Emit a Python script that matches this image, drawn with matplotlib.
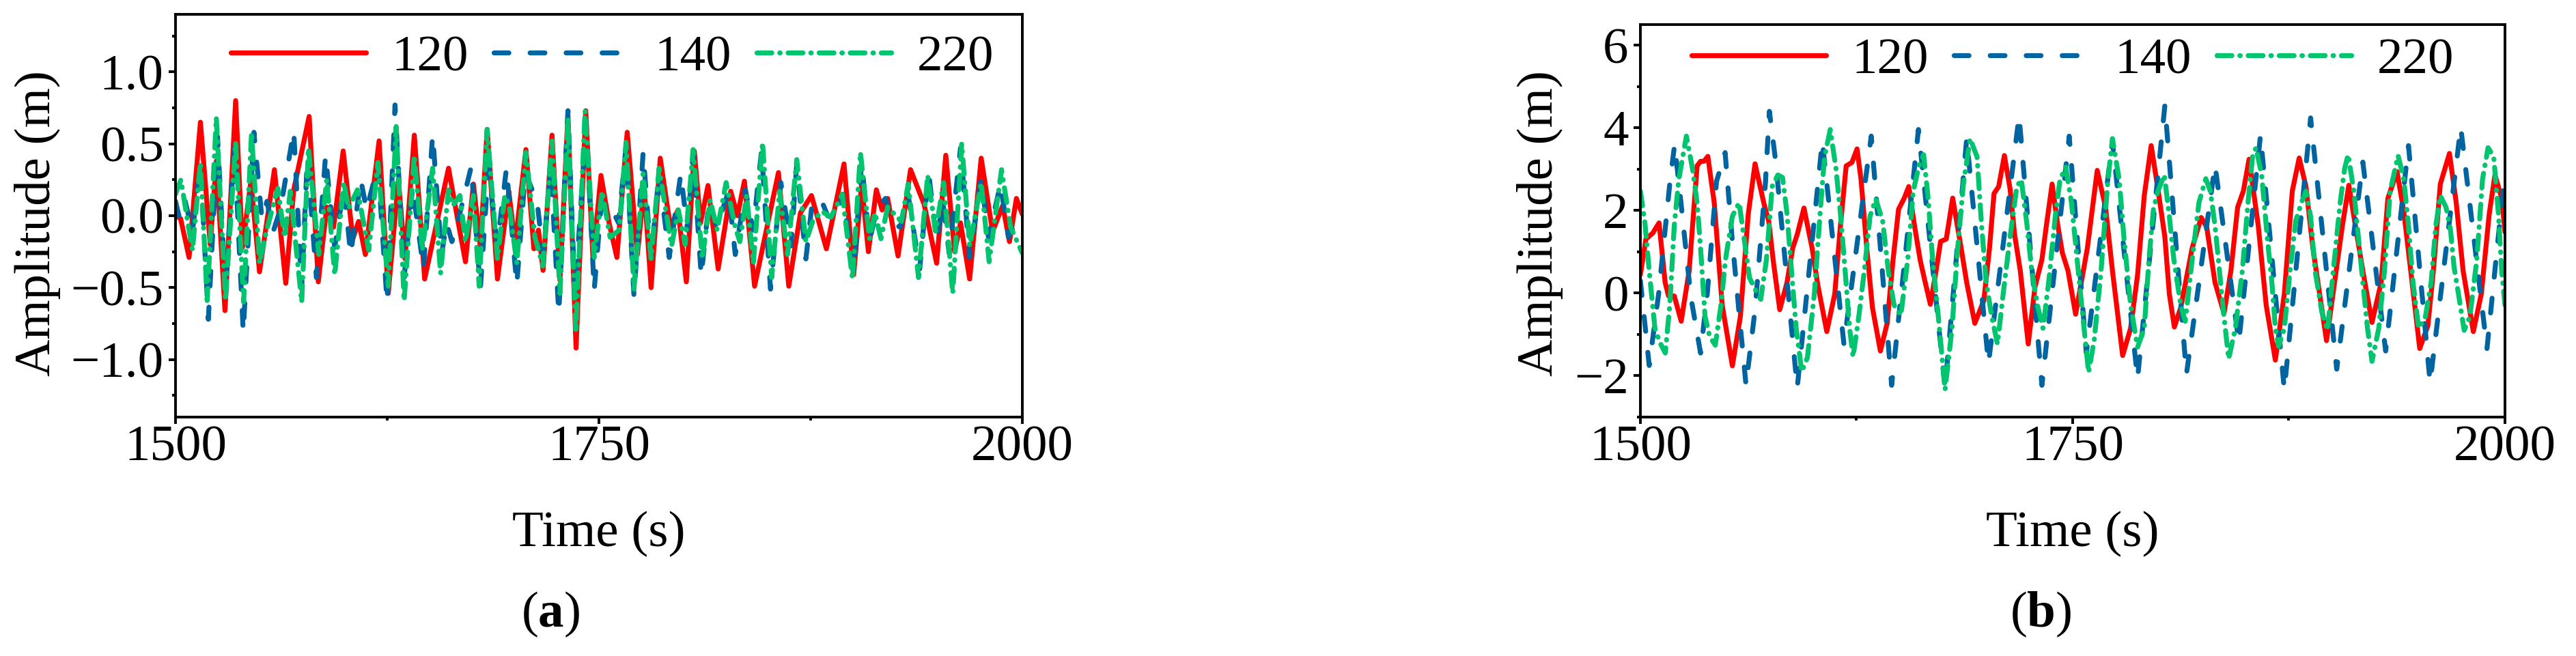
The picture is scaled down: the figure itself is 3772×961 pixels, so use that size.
import numpy as np
import matplotlib
matplotlib.use("Agg")
import matplotlib.pyplot as plt

plt.rcParams['font.family'] = ['Liberation Serif', 'DejaVu Serif']
plt.rcParams['mathtext.fontset'] = 'custom'
plt.rcParams['mathtext.rm'] = 'Liberation Serif'
plt.rcParams['mathtext.bf'] = 'Liberation Serif:bold'

# (a) amplitude time series, (time s, amplitude m)
a_120 = np.array([
    (1500, 0.0), (1503, -0.02), (1508, -0.29), (1514.7, 0.65), (1520.5, -0.2), (1524.1, 0.38),
    (1529.2, -0.66), (1535.5, 0.80), (1539.5, -0.22), (1544.5, 0.24), (1549.6, -0.39), (1558.4, 0.32),
    (1565.1, -0.47), (1569.8, 0.18), (1578.9, 0.69), (1584.3, -0.46), (1589.3, 0.06), (1593.3, -0.08),
    (1599.0, 0.45), (1604.7, -0.16), (1608.1, -0.04), (1612.1, -0.27), (1620.2, 0.52), (1625.6, -0.54),
    (1631.6, 0.25), (1635.5, -0.30), (1641.0, 0.56), (1647.1, -0.44), (1661.2, 0.33), (1666.5, -0.02),
    (1671.2, -0.32), (1675.9, 0.22), (1680.0, -0.22), (1684.0, 0.60), (1690.1, -0.44), (1696.8, 0.17),
    (1700.5, -0.20), (1706.9, 0.46), (1711.6, -0.23), (1714.3, -0.10), (1717.0, -0.38), (1722.3, 0.56),
    (1727.0, -0.45), (1731.7, 0.70), (1736.5, -0.92), (1742.2, 0.73), (1746.5, -0.30), (1751.2, 0.28),
    (1756.0, -0.05), (1760.6, -0.29), (1766.7, 0.58), (1772.7, -0.27), (1776.7, 0.20), (1780.8, -0.50),
    (1786.2, 0.40), (1792.2, -0.08), (1796.7, 0.04), (1801.6, -0.46), (1806.3, 0.45), (1810.0, -0.05),
    (1814.4, 0.21), (1820.4, -0.37), (1827.8, 0.17), (1831.8, 0.0), (1835.9, 0.24), (1841.9, -0.49),
    (1856.0, 0.30), (1862.1, -0.49), (1869.0, 0.02), (1875.5, 0.14), (1884.3, -0.23), (1894.7, 0.36),
    (1900.4, -0.41), (1905.1, 0.22), (1909.1, -0.25), (1913.8, 0.18), (1917.2, 0.04), (1920.5, 0.12),
    (1926.6, -0.28), (1934.0, 0.32), (1942.0, 0.08), (1949.4, -0.33), (1954.8, 0.42), (1960.0, -0.25),
    (1963.5, -0.05), (1968.9, -0.44), (1975.7, 0.40), (1982.4, -0.11), (1988.4, 0.07), (1992.4, -0.18),
    (1996.5, 0.12), (2000, 0.01)])

a_140 = np.array([
    (1500, 0.1), (1502, 0.0), (1505.3, 0.12), (1510, -0.11), (1514.7, 0.36), (1519.4, -0.72),
    (1524.8, 0.55), (1529.5, -0.52), (1534.8, 0.48), (1540, -0.81), (1546.3, 0.58), (1551, -0.02),
    (1554, 0.10), (1557.7, -0.11), (1562, 0.05), (1569.8, 0.59), (1574.5, -0.51), (1577.8, 0.40),
    (1583.2, -0.43), (1588.6, 0.42), (1594, -0.22), (1599.4, 0.20), (1603.4, -0.27), (1609.4, 0.25),
    (1612.8, 0.04), (1619.5, 0.35), (1624.9, -0.60), (1629.6, 0.77), (1635, -0.43), (1640, 0.20),
    (1646.4, -0.37), (1651.8, 0.56), (1657.1, -0.27), (1660, -0.05), (1663.2, -0.18), (1666.5, -0.05),
    (1674.6, 0.34), (1680, -0.51), (1684.7, 0.33), (1690, -0.20), (1695.4, 0.33), (1701.5, -0.48),
    (1706.5, 0.30), (1713.6, 0.09), (1717, -0.27), (1721.6, 0.33), (1726.3, -0.68), (1731.7, 0.73),
    (1735.8, -0.55), (1742.5, 0.64), (1747.2, -0.52), (1751.5, 0.10), (1756.6, 0.07), (1761.6, -0.05),
    (1766, 0.48), (1770.7, -0.56), (1776.1, 0.44), (1780.8, -0.30), (1785.5, 0.30), (1791.5, -0.29),
    (1798.3, 0.29), (1802.3, -0.10), (1805.6, 0.43), (1810.4, -0.42), (1815, 0.10), (1819.7, -0.08),
    (1826.5, 0.17), (1830.5, -0.27), (1836.5, 0.18), (1841, -0.10), (1846, 0.45), (1851.3, -0.51),
    (1857.4, 0.23), (1863.4, -0.21), (1866.8, 0.36), (1872.2, -0.30), (1876, 0.10), (1881.6, 0.10),
    (1885, 0.0), (1889.6, -0.02), (1894, 0.15), (1900.4, -0.40), (1905.1, 0.37), (1909.8, -0.18),
    (1914, 0.05), (1919.2, 0.12), (1923, -0.05), (1927.9, -0.08), (1932.5, 0.15), (1939.4, -0.37),
    (1944.7, 0.30), (1949.4, -0.18), (1953, 0.10), (1956.8, -0.26), (1963.5, 0.47), (1968.9, -0.29),
    (1975.7, 0.26), (1980, -0.15), (1987.1, 0.22), (1991.8, -0.15), (1996, -0.05), (2000, -0.10)])

a_220 = np.array([
    (1500, 0.15), (1503.2, 0.25), (1507.3, -0.05), (1510, -0.24), (1514.7, 0.37), (1518.7, -0.59),
    (1524.1, 0.68), (1529.5, -0.59), (1535.5, 0.51), (1540.2, -0.60), (1544.9, 0.58), (1549.6, -0.33),
    (1553.6, -0.11), (1560.4, 0.19), (1564.4, -0.15), (1567.8, 0.17), (1574.5, -0.60), (1578.5, 0.47),
    (1584.6, -0.27), (1589.3, 0.25), (1594, -0.41), (1599.4, 0.23), (1602.2, 0.05), (1607.4, 0.18),
    (1614.1, -0.24), (1619.5, 0.37), (1625.6, -0.49), (1630.3, 0.62), (1635, -0.59), (1641, 0.42),
    (1645.7, -0.24), (1651.8, 0.33), (1656.5, -0.40), (1661.2, 0.18), (1663.8, 0.07), (1667.9, 0.14),
    (1671.2, -0.18), (1675.9, 0.14), (1679.3, -0.49), (1684, 0.60), (1690.1, -0.30), (1694.4, 0.14),
    (1697, 0.07), (1701.5, -0.33), (1706.9, 0.44), (1712.2, -0.15), (1716.9, -0.35), (1722.3, 0.52),
    (1727, -0.54), (1731.7, 0.68), (1736.4, -0.81), (1741.8, 0.73), (1747.2, -0.29), (1751.9, 0.17),
    (1756.6, -0.15), (1762, -0.10), (1766, 0.51), (1770.7, -0.51), (1776.1, 0.29), (1780.8, -0.30),
    (1785.5, 0.33), (1792.9, -0.21), (1796.9, 0.04), (1800.9, -0.20), (1805.6, 0.46), (1811, -0.30),
    (1815.7, 0.11), (1819.8, -0.10), (1825.1, 0.23), (1830.5, -0.08), (1833.2, -0.18), (1837.2, 0.14),
    (1841.2, -0.33), (1846.6, 0.51), (1852, -0.43), (1856.7, 0.17), (1861.4, -0.27), (1866.8, 0.39),
    (1872.2, -0.18), (1876.2, -0.04), (1881.6, 0.03), (1887, -0.01), (1893.7, 0.15), (1899.7, -0.44),
    (1904.4, 0.44), (1909.8, -0.16), (1913, 0.02), (1916.5, -0.16), (1920.5, 0.06), (1928.6, -0.04),
    (1932.6, 0.22), (1938.7, -0.43), (1944.1, 0.28), (1948.8, -0.11), (1953.5, 0.23), (1958.9, -0.54),
    (1964.2, 0.50), (1968.9, -0.21), (1975.7, 0.23), (1980.4, -0.32), (1987.7, 0.32), (1993.1, -0.08),
    (2000, -0.26)])

# (b)
b_120 = np.array([
    (1500, 0.45), (1503.2, 1.31), (1507.1, 1.45), (1510.8, 1.70), (1514.3, 0.26), (1516.3, -0.07),
    (1519.6, -0.07), (1523.6, -0.68), (1528.2, 0.54), (1532.8, 3.08), (1534.8, 3.19), (1536.7, 3.19),
    (1539.0, 3.31), (1542.7, 2.19), (1547.3, -0.29), (1553.2, -1.76), (1557.8, -0.57), (1562.4, 1.92),
    (1566.3, 3.13), (1571.6, 2.14), (1574.2, 1.75), (1576.9, 0.76), (1580.6, -0.40), (1584.8, 0.26),
    (1588.1, 1.09), (1590.7, 1.42), (1594.6, 2.06), (1599.3, 1.09), (1602.6, 0.20), (1607.8, -0.93),
    (1612.4, -0.02), (1615.7, 1.64), (1619.0, 3.08), (1622.3, 3.16), (1625.3, 3.49), (1627.6, 2.75),
    (1630.9, 1.09), (1634.2, -0.35), (1638.8, -1.40), (1642.7, -0.73), (1646.0, 0.76), (1649.3, 2.03),
    (1652.6, 2.30), (1655.2, 2.58), (1658.5, 1.64), (1661.8, 0.80), (1664.5, 0.30), (1667.7, -0.27),
    (1671.0, 0.54), (1673.6, 1.25), (1676.9, 1.31), (1680.6, 2.30), (1685.5, 1.09), (1688.7, 0.26),
    (1693.4, -0.73), (1698.6, -0.18), (1701.9, 1.09), (1704.5, 2.41), (1707.2, 2.58), (1710.5, 3.33),
    (1713.8, 2.52), (1716.4, 1.42), (1719.7, 0.54), (1724.3, -1.23), (1728.2, 0.15), (1732.2, 0.81),
    (1734.8, 1.64), (1738.1, 2.64), (1741.4, 1.64), (1744.0, 0.98), (1747.3, 0.54), (1751.7, -0.51),
    (1755.2, 0.31), (1758.5, 1.09), (1764.2, 2.97), (1769.0, 2.08), (1773.0, 0.54), (1778.9, -1.51),
    (1783.5, -0.85), (1787.5, 0.43), (1791.4, 2.36), (1795.4, 3.57), (1799.3, 2.52), (1803.3, 1.36),
    (1805.9, -0.02), (1808.8, -0.82), (1812.5, -0.35), (1819.1, 1.09), (1824.3, 1.83), (1827.5, 1.60),
    (1832.3, 0.26), (1837.5, -0.49), (1841.5, 0.54), (1845.4, 2.08), (1848.7, 2.47), (1852.0, 3.24),
    (1857.3, 1.64), (1861.9, -0.29), (1867.2, -1.62), (1872.4, -0.02), (1877.0, 2.47), (1881.0, 3.27),
    (1884.9, 2.58), (1888.9, 1.09), (1892.8, -0.02), (1896.8, -1.15), (1902.0, 0.43), (1906.0, 1.64),
    (1909.7, 2.61), (1913.9, 1.53), (1917.8, 0.54), (1923.1, -0.71), (1928.4, 0.26), (1932.3, 2.30),
    (1937.6, 2.94), (1941.5, 1.97), (1945.5, 0.54), (1950.7, -1.34), (1955.4, -0.79), (1958.6, 0.54),
    (1962.6, 2.64), (1967.9, 3.38), (1971.8, 2.19), (1975.8, 0.54), (1981.7, -0.93), (1986.3, -0.02),
    (1990.9, 1.92), (1994.2, 2.86), (1998.1, 2.30), (2000, 1.48)])

b_140 = np.array([
    (1500, 0.30), (1505.1, -1.75), (1510.6, 0.0), (1517.0, 2.65), (1519.8, 3.60), (1524.2, 1.90),
    (1529.2, -0.10), (1534.8, -1.45), (1538.7, 0.0), (1544.0, 2.70), (1549.0, 3.40), (1553.2, 1.25),
    (1557.8, -0.80), (1561.1, -2.23), (1566.3, -0.40), (1572.3, 2.66), (1574.6, 4.40), (1578.2, 3.20),
    (1590.7, -2.29), (1605.2, 3.68), (1617.7, -1.23), (1633.5, 3.80), (1645.3, -2.23), (1660.8, 3.96),
    (1676.2, -2.29), (1688.7, 3.74), (1701.3, -1.70), (1719.0, 4.29), (1732.2, -2.23), (1748.0, 3.80),
    (1757.9, -1.45), (1773.0, 3.68), (1787.5, -2.07), (1803.3, 4.54), (1815.8, -1.96), (1832.3, 3.10),
    (1846.1, -1.18), (1858.6, 3.82), (1872.4, -2.34), (1887.6, 4.24), (1902.7, -1.84), (1917.8, 3.17),
    (1931.0, -1.40), (1944.2, 3.57), (1956.7, -2.17), (1974.4, 4.02), (1989.6, -1.34), (2000, 2.96)])

b_220 = np.array([
    (1500, 2.47), (1502.5, 1.75), (1505.1, 0.54), (1508.4, -0.85), (1511.1, -1.18), (1514.4, -1.45),
    (1517.0, -0.29), (1519.6, 1.64), (1522.2, 2.75), (1526.6, 3.80), (1530.1, 3.02), (1532.8, 2.19),
    (1534.8, 1.09), (1537.4, -0.57), (1540.0, -1.04), (1543.3, -1.26), (1546.6, -0.29), (1549.2, 0.81),
    (1553.2, 1.86), (1557.1, 2.19), (1560.4, 1.20), (1563.1, 0.37), (1567.0, 0.04), (1569.6, -0.15),
    (1572.9, 0.81), (1576.2, 2.58), (1579.5, 2.86), (1582.2, 2.80), (1584.8, 1.92), (1587.4, 0.54),
    (1590.1, -0.85), (1593.3, -1.90), (1596.6, -1.56), (1600.6, -0.02), (1603.9, 1.92), (1606.5, 3.30),
    (1609.8, 3.96), (1613.1, 3.02), (1615.7, 1.92), (1618.4, 0.54), (1621.0, -0.85), (1623.0, -1.54),
    (1626.3, -0.57), (1629.5, 0.54), (1632.8, 1.86), (1636.1, 2.28), (1640.1, 1.75), (1643.4, 0.54),
    (1646.7, -0.29), (1650.6, -0.54), (1654.6, 0.81), (1657.8, 2.47), (1661.1, 3.08), (1663.8, 3.35),
    (1666.4, 2.30), (1669.0, 0.81), (1672.3, -0.57), (1676.2, -2.34), (1680.2, -0.85), (1683.5, 1.09),
    (1686.8, 2.64), (1690.7, 3.74), (1694.7, 3.30), (1697.3, 1.64), (1700.0, 0.26), (1703.2, -0.57),
    (1706.5, -1.23), (1709.8, -0.02), (1713.8, 1.36), (1717.7, 2.58), (1720.3, 2.75), (1723.6, 1.64),
    (1726.3, 0.54), (1729.6, -0.29), (1732.8, -0.85), (1736.1, 0.26), (1740.1, 1.92), (1742.7, 2.75),
    (1746.0, 3.05), (1749.3, 2.19), (1751.9, 1.09), (1755.2, -0.29), (1759.2, -1.92), (1762.5, -1.12),
    (1766.4, 0.54), (1770.4, 2.75), (1773.0, 3.74), (1776.9, 2.75), (1779.6, 1.36), (1783.5, -0.29),
    (1787.5, -1.31), (1791.4, -0.85), (1794.1, 0.81), (1796.7, 2.03), (1799.3, 2.47), (1803.0, 2.86),
    (1805.9, 1.86), (1808.5, 0.81), (1812.5, -0.29), (1815.1, -0.68), (1819.1, 0.81), (1823.0, 2.19),
    (1827.0, 2.77), (1829.6, 2.47), (1832.3, 1.64), (1834.9, 0.54), (1837.5, -0.57), (1840.2, -1.59),
    (1844.1, -0.85), (1848.1, 0.54), (1851.4, 2.19), (1854.0, 3.30), (1856.0, 3.52), (1859.3, 2.86),
    (1862.5, 1.36), (1865.2, 0.26), (1867.2, -0.85), (1869.1, -1.29), (1872.4, -0.85), (1875.7, 0.54),
    (1879.0, 1.75), (1882.3, 2.19), (1884.9, 2.47), (1887.6, 1.86), (1890.2, 0.54), (1894.1, -0.46),
    (1897.4, -0.90), (1900.7, 0.54), (1904.7, 2.19), (1907.3, 3.02), (1909.3, 3.35), (1912.6, 2.47),
    (1915.2, 1.36), (1917.8, 0.26), (1920.5, -0.85), (1923.1, -1.65), (1927.0, -0.85), (1930.3, 0.54),
    (1933.6, 2.47), (1938.2, 3.33), (1941.5, 2.75), (1944.2, 1.64), (1946.8, 0.26), (1950.1, -0.85),
    (1954.0, -0.57), (1957.3, 0.26), (1960.0, 1.64), (1962.6, 2.36), (1965.9, 2.08), (1968.5, 1.53),
    (1970.5, 0.65), (1973.1, -0.02), (1976.4, -0.90), (1979.7, -0.57), (1983.7, 0.81), (1987.0, 2.75),
    (1990.2, 3.52), (1993.5, 3.30), (1996.2, 1.92), (1998.1, 0.54), (2000, -0.29)])

labels = ['120', '140', '220']
colors = ['#ff0000', '#0064a0', '#00c46e']
styles = ['-', (0, (3, 4.3)), (0, (3, 1.6, 0.1, 1.6))]

fs = 54
lw = 5.2

fig = plt.figure(figsize=(37.73, 9.61), dpi=100)
ax1 = fig.add_axes([257/3773, 1-611/961, 1240/3773, 590/961])
ax2 = fig.add_axes([2402/3773, 1-611/961, 1266/3773, 575/961])

def draw(ax, series, ylim, major, minor, legx, legy):
    for s, lab, c, ls in zip(series, labels, colors, styles):
        ax.plot(s[:, 0], s[:, 1], color=c, linestyle=ls, lw=lw, label=lab,
                dash_capstyle='round', solid_capstyle='round')
    ax.set_xlim(1500, 2000)
    ax.set_ylim(*ylim)
    ax.set_xticks([1500, 1750, 2000])
    ax.set_xticks([1625, 1875], minor=True)
    ax.set_yticks(major)
    ax.set_yticks(minor, minor=True)
    ax.tick_params(axis='both', which='major', direction='out', length=7.5, width=2.8, labelsize=fs)
    ax.tick_params(axis='both', which='minor', direction='out', length=3.8, width=2.8)
    ax.tick_params(axis='x', which='major', pad=1)
    ax.tick_params(axis='y', which='major', pad=5)
    for sp in ax.spines.values():
        sp.set_linewidth(2.8)
    ax.legend(loc='upper center', bbox_to_anchor=(legx, legy), ncol=3, frameon=False,
              fontsize=fs, handlelength=2.63, handletextpad=0.5, columnspacing=0.5,
              borderaxespad=0)

draw(ax1, [a_120, a_140, a_220], (-1.4, 1.4), [-1.0, -0.5, 0.0, 0.5, 1.0],
     [-1.25, -0.75, -0.25, 0.25, 0.75, 1.25], 0.516, 1.0)
ax1.set_yticklabels(['\u22121.0', '\u22120.5', '0.0', '0.5', '1.0'])
draw(ax2, [b_120, b_140, b_220], (-3, 6.5), [-2, 0, 2, 4, 6], [-3, -1, 1, 3, 5], 0.5, 1.02)
ax2.set_yticklabels(['\u22122', '0', '2', '4', '6'])

fig.text(0.0146, 0.66, 'Amplitude (m)', rotation=90, fontsize=fs, ha='center', va='center')
fig.text(0.5977, 0.66, 'Amplitude (m)', rotation=90, fontsize=fs, ha='center', va='center')
fig.text(0.2324, 0.186, 'Time (s)', fontsize=fs, ha='center', va='center')
fig.text(0.8044, 0.186, 'Time (s)', fontsize=fs, ha='center', va='center')
fig.text(0.2136, 0.063, r'($\mathbf{a}$)', fontsize=fs, ha='center', va='center')
fig.text(0.792, 0.063, r'($\mathbf{b}$)', fontsize=fs, ha='center', va='center')

fig.savefig('out.png', dpi=100)
